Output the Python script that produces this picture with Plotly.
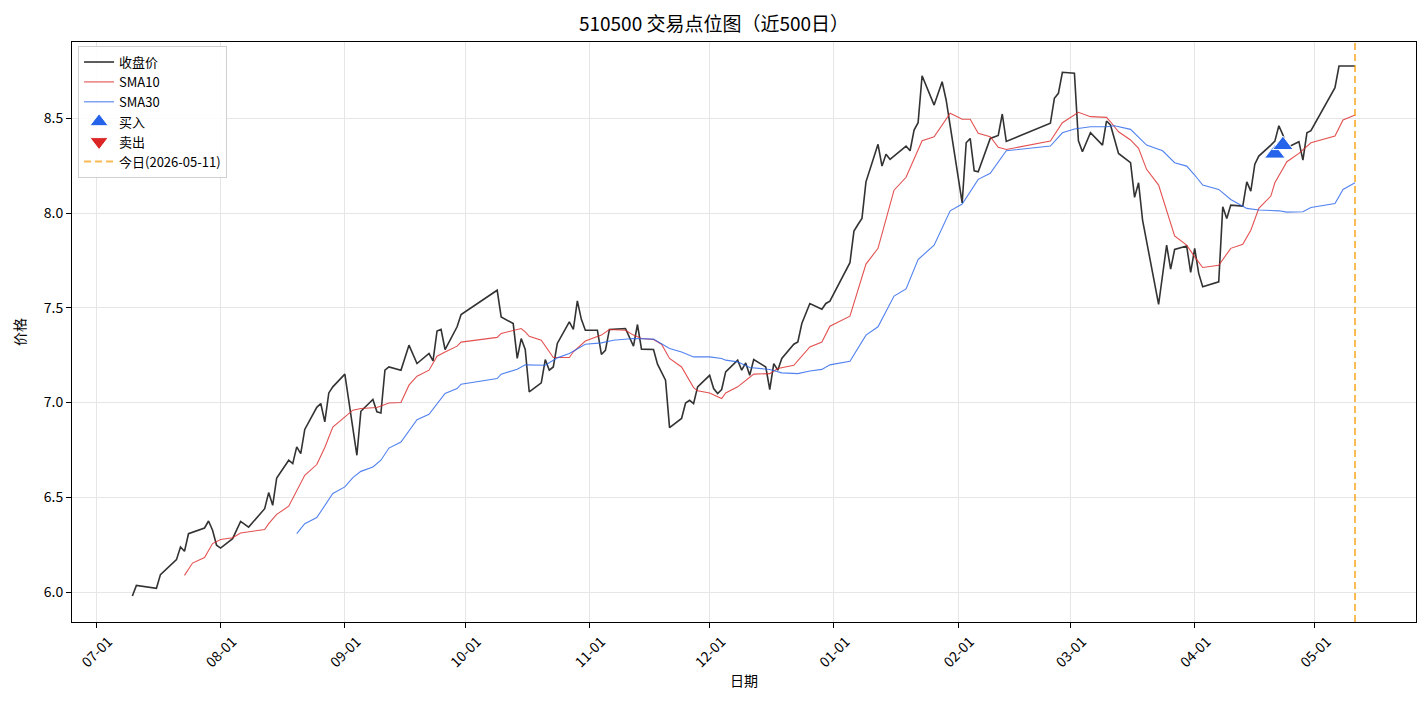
import plotly.graph_objects as go

# ---------------- data ----------------
close_dates = [
    "2025-07-10", "2025-07-11", "2025-07-16", "2025-07-17", "2025-07-21", "2025-07-22", "2025-07-23", "2025-07-24",
    "2025-07-28", "2025-07-29", "2025-07-30", "2025-07-31", "2025-08-01", "2025-08-04", "2025-08-06", "2025-08-08",
    "2025-08-12", "2025-08-13", "2025-08-14", "2025-08-15", "2025-08-18", "2025-08-19", "2025-08-20", "2025-08-21",
    "2025-08-22", "2025-08-25", "2025-08-26", "2025-08-27", "2025-08-28", "2025-08-29", "2025-09-01", "2025-09-04",
    "2025-09-05", "2025-09-08", "2025-09-09", "2025-09-10", "2025-09-11", "2025-09-12", "2025-09-15", "2025-09-17",
    "2025-09-19", "2025-09-22", "2025-09-23", "2025-09-24", "2025-09-25", "2025-09-26", "2025-09-29", "2025-09-30",
    "2025-10-09", "2025-10-10", "2025-10-13", "2025-10-14", "2025-10-15", "2025-10-16", "2025-10-17", "2025-10-20",
    "2025-10-21", "2025-10-22", "2025-10-23", "2025-10-24", "2025-10-27", "2025-10-28", "2025-10-29", "2025-10-30",
    "2025-10-31", "2025-11-03", "2025-11-04", "2025-11-05", "2025-11-06", "2025-11-10", "2025-11-12", "2025-11-13",
    "2025-11-14", "2025-11-17", "2025-11-18", "2025-11-20", "2025-11-21", "2025-11-24", "2025-11-25", "2025-11-26",
    "2025-11-27", "2025-11-28", "2025-12-01", "2025-12-02", "2025-12-03", "2025-12-04", "2025-12-05", "2025-12-08",
    "2025-12-09", "2025-12-10", "2025-12-11", "2025-12-12", "2025-12-15", "2025-12-16", "2025-12-17", "2025-12-18",
    "2025-12-19", "2025-12-22", "2025-12-23", "2025-12-24", "2025-12-26", "2025-12-29", "2025-12-30", "2025-12-31",
    "2026-01-05", "2026-01-06", "2026-01-07", "2026-01-08", "2026-01-09", "2026-01-12", "2026-01-13", "2026-01-14",
    "2026-01-15", "2026-01-19", "2026-01-20", "2026-01-21", "2026-01-22", "2026-01-23", "2026-01-26", "2026-01-28",
    "2026-01-29", "2026-02-02", "2026-02-03", "2026-02-04", "2026-02-05", "2026-02-06", "2026-02-09", "2026-02-11",
    "2026-02-12", "2026-02-13", "2026-02-24", "2026-02-25", "2026-02-26", "2026-02-27", "2026-03-02", "2026-03-03",
    "2026-03-04", "2026-03-06", "2026-03-09", "2026-03-10", "2026-03-11", "2026-03-13", "2026-03-16", "2026-03-17",
    "2026-03-18", "2026-03-19", "2026-03-23", "2026-03-25", "2026-03-26", "2026-03-27", "2026-03-30", "2026-03-31",
    "2026-04-01", "2026-04-02", "2026-04-03", "2026-04-07", "2026-04-08", "2026-04-09", "2026-04-10", "2026-04-13",
    "2026-04-14", "2026-04-15", "2026-04-16", "2026-04-17", "2026-04-20", "2026-04-21", "2026-04-22", "2026-04-23",
    "2026-04-24", "2026-04-27", "2026-04-28", "2026-04-29", "2026-04-30", "2026-05-06", "2026-05-07", "2026-05-08",
    "2026-05-11",
]
close_values = [
    5.979, 6.035, 6.020, 6.092, 6.171, 6.238, 6.215, 6.308,
    6.338, 6.375, 6.326, 6.247, 6.232, 6.282, 6.373, 6.343,
    6.440, 6.525, 6.458, 6.602, 6.696, 6.678, 6.766, 6.731,
    6.858, 6.975, 6.995, 6.898, 7.051, 7.083, 7.150, 6.722,
    6.954, 7.016, 6.951, 6.945, 7.171, 7.188, 7.171, 7.303,
    7.206, 7.259, 7.220, 7.378, 7.386, 7.280, 7.400, 7.465,
    7.593, 7.452, 7.417, 7.233, 7.338, 7.280, 7.056, 7.104,
    7.227, 7.171, 7.188, 7.312, 7.426, 7.386, 7.537, 7.439,
    7.382, 7.382, 7.254, 7.276, 7.386, 7.391, 7.298, 7.412,
    7.282, 7.280, 7.203, 7.118, 6.868, 6.916, 6.998, 7.012,
    6.995, 7.083, 7.144, 7.074, 7.048, 7.069, 7.162, 7.224,
    7.171, 7.209, 7.144, 7.227, 7.188, 7.069, 7.206, 7.171,
    7.233, 7.308, 7.320, 7.417, 7.523, 7.493, 7.523, 7.535,
    7.738, 7.905, 7.940, 7.972, 8.165, 8.363, 8.248, 8.310,
    8.284, 8.354, 8.329, 8.438, 8.477, 8.725, 8.570, 8.693,
    8.597, 8.054, 8.371, 8.394, 8.223, 8.218, 8.394, 8.410,
    8.523, 8.378, 8.474, 8.606, 8.632, 8.743, 8.738, 8.382,
    8.324, 8.424, 8.359, 8.486, 8.465, 8.315, 8.266, 8.083,
    8.160, 7.963, 7.518, 7.831, 7.704, 7.808, 7.826, 7.687,
    7.814, 7.682, 7.611, 7.637, 8.033, 7.972, 8.042, 8.037,
    8.165, 8.116, 8.258, 8.301, 8.359, 8.380, 8.461, 8.413,
    8.345, 8.377, 8.280, 8.424, 8.435, 8.662, 8.776, 8.776,
    8.776,
]

sma10_dates = [
    "2025-07-23", "2025-07-25", "2025-07-28", "2025-07-30", "2025-08-01", "2025-08-04", "2025-08-06", "2025-08-12",
    "2025-08-13", "2025-08-15", "2025-08-18", "2025-08-22", "2025-08-25", "2025-08-27", "2025-08-29", "2025-09-01",
    "2025-09-03", "2025-09-05", "2025-09-09", "2025-09-12", "2025-09-15", "2025-09-17", "2025-09-19", "2025-09-22",
    "2025-09-24", "2025-09-26", "2025-09-29", "2025-09-30", "2025-10-09", "2025-10-10", "2025-10-14", "2025-10-15",
    "2025-10-16", "2025-10-17", "2025-10-20", "2025-10-21", "2025-10-23", "2025-10-27", "2025-10-28", "2025-10-31",
    "2025-11-04", "2025-11-06", "2025-11-10", "2025-11-12", "2025-11-14", "2025-11-17", "2025-11-19", "2025-11-21",
    "2025-11-24", "2025-11-27", "2025-11-28", "2025-12-01", "2025-12-04", "2025-12-05", "2025-12-08", "2025-12-12",
    "2025-12-16", "2025-12-18", "2025-12-22", "2025-12-26", "2025-12-29", "2025-12-31", "2026-01-05", "2026-01-09",
    "2026-01-12", "2026-01-16", "2026-01-19", "2026-01-23", "2026-01-26", "2026-01-30", "2026-02-02", "2026-02-04",
    "2026-02-06", "2026-02-09", "2026-02-11", "2026-02-13", "2026-02-24", "2026-02-27", "2026-03-03", "2026-03-06",
    "2026-03-10", "2026-03-11", "2026-03-13", "2026-03-16", "2026-03-18", "2026-03-20", "2026-03-23", "2026-03-27",
    "2026-03-30", "2026-04-01", "2026-04-03", "2026-04-07", "2026-04-10", "2026-04-13", "2026-04-15", "2026-04-17",
    "2026-04-20", "2026-04-21", "2026-04-24", "2026-04-27", "2026-04-30", "2026-05-06", "2026-05-08", "2026-05-11",
]
sma10_values = [
    6.088, 6.153, 6.182, 6.256, 6.277, 6.287, 6.312, 6.330,
    6.361, 6.410, 6.453, 6.616, 6.673, 6.763, 6.871, 6.924,
    6.960, 6.969, 6.974, 6.998, 7.000, 7.092, 7.139, 7.171,
    7.245, 7.267, 7.298, 7.319, 7.344, 7.365, 7.386, 7.391,
    7.373, 7.350, 7.329, 7.298, 7.238, 7.238, 7.268, 7.325,
    7.356, 7.386, 7.382, 7.356, 7.338, 7.333, 7.308, 7.233,
    7.188, 7.079, 7.062, 7.051, 7.021, 7.051, 7.083, 7.150,
    7.153, 7.180, 7.197, 7.294, 7.320, 7.403, 7.456, 7.731,
    7.814, 8.121, 8.189, 8.382, 8.403, 8.527, 8.495, 8.495,
    8.421, 8.403, 8.347, 8.336, 8.380, 8.477, 8.532, 8.509,
    8.505, 8.482, 8.429, 8.386, 8.342, 8.231, 8.148, 7.880,
    7.831, 7.769, 7.713, 7.725, 7.814, 7.836, 7.910, 8.025,
    8.090, 8.160, 8.271, 8.315, 8.371, 8.407, 8.492, 8.518,
]

sma30_dates = [
    "2025-08-20", "2025-08-22", "2025-08-25", "2025-08-29", "2025-09-01", "2025-09-03", "2025-09-05", "2025-09-08",
    "2025-09-10", "2025-09-12", "2025-09-15", "2025-09-19", "2025-09-22", "2025-09-26", "2025-09-29", "2025-09-30",
    "2025-10-09", "2025-10-10", "2025-10-14", "2025-10-16", "2025-10-21", "2025-10-24", "2025-10-27", "2025-10-31",
    "2025-11-04", "2025-11-07", "2025-11-12", "2025-11-17", "2025-11-21", "2025-11-24", "2025-11-27", "2025-12-01",
    "2025-12-04", "2025-12-05", "2025-12-08", "2025-12-11", "2025-12-16", "2025-12-19", "2025-12-23", "2025-12-26",
    "2025-12-29", "2025-12-31", "2026-01-05", "2026-01-09", "2026-01-12", "2026-01-16", "2026-01-19", "2026-01-22",
    "2026-01-26", "2026-01-30", "2026-02-02", "2026-02-06", "2026-02-09", "2026-02-13", "2026-02-24", "2026-02-27",
    "2026-03-02", "2026-03-06", "2026-03-10", "2026-03-12", "2026-03-16", "2026-03-20", "2026-03-24", "2026-03-27",
    "2026-03-30", "2026-04-01", "2026-04-03", "2026-04-07", "2026-04-10", "2026-04-14", "2026-04-17", "2026-04-22",
    "2026-04-24", "2026-04-28", "2026-04-30", "2026-05-06", "2026-05-08", "2026-05-11",
]
sma30_values = [
    6.308, 6.361, 6.393, 6.520, 6.555, 6.604, 6.637, 6.660,
    6.696, 6.760, 6.792, 6.910, 6.938, 7.048, 7.074, 7.097,
    7.127, 7.150, 7.176, 7.199, 7.197, 7.236, 7.259, 7.308,
    7.315, 7.329, 7.338, 7.335, 7.285, 7.267, 7.241, 7.241,
    7.233, 7.224, 7.215, 7.185, 7.175, 7.157, 7.153, 7.167,
    7.175, 7.199, 7.218, 7.356, 7.400, 7.562, 7.600, 7.755,
    7.831, 8.012, 8.048, 8.178, 8.210, 8.329, 8.354, 8.424,
    8.444, 8.456, 8.456, 8.461, 8.442, 8.359, 8.329, 8.266,
    8.248, 8.201, 8.148, 8.125, 8.072, 8.025, 8.016, 8.012,
    8.005, 8.007, 8.030, 8.051, 8.125, 8.160,
]

buy_dates = ["2026-04-21", "2026-04-23"]
buy_values = [8.314, 8.359]
sell_dates = [None]
sell_values = [None]

today = "2026-05-11"
title_text = "510500 交易点位图（近500日）"
x_range = ["2025-06-24 22:30", "2026-05-26 05:00"]
y_range = [5.842, 8.903]

FONT = "Noto Sans CJK SC, Noto Sans, sans-serif"

# ---------------- figure ----------------
fig = go.Figure()
fig.add_trace(go.Scatter(x=close_dates, y=close_values, mode="lines", name="收盘价",
                         line=dict(color="#333333", width=1.6)))
fig.add_trace(go.Scatter(x=sma10_dates, y=sma10_values, mode="lines", name="SMA10",
                         line=dict(color="rgba(220,38,38,0.8)", width=1.1)))
fig.add_trace(go.Scatter(x=sma30_dates, y=sma30_values, mode="lines", name="SMA30",
                         line=dict(color="rgba(37,99,235,0.8)", width=1.1)))
fig.add_trace(go.Scatter(x=buy_dates, y=buy_values, mode="markers", name="买入",
                         marker=dict(symbol="triangle-up", size=18, color="#2563EB",
                                     line=dict(color="white", width=1))))
fig.add_trace(go.Scatter(x=sell_dates, y=sell_values, mode="markers", name="卖出",
                         marker=dict(symbol="triangle-down", size=18, color="#DC2626",
                                     line=dict(color="white", width=1))))

fig.add_shape(type="line", xref="x", yref="paper", x0=today, x1=today, y0=0, y1=1,
              line=dict(color="rgba(245,158,11,0.7)", width=2, dash="7px,4px"),
              name=f"今日({today})", showlegend=True)

axis_common = dict(showline=True, linecolor="black", linewidth=1, mirror=True,
                   ticks="outside", ticklen=5, tickcolor="black", tickwidth=1,
                   showgrid=True, gridcolor="#e6e6e6", gridwidth=1, zeroline=False,
                   automargin=False,
                   tickfont=dict(family=FONT, size=14, color="black"))

# page body has an 8px margin, so the figure is sized to fit inside the window
fig.update_layout(
    width=1412, height=690,
    margin=dict(l=64, r=4, t=34, b=76),
    paper_bgcolor="white", plot_bgcolor="white",
    font=dict(family=FONT, color="black"),
    title=dict(text=title_text, x=0.5, xanchor="center", y=0.977, yanchor="middle",
               yref="container", automargin=False,
               font=dict(family=FONT, size=19, color="black")),
    xaxis=dict(type="date", range=x_range, dtick="M1", tick0="2025-07-01",
               tickformat="%m-%d", tickangle=-45, ticklabelshift=12,
               title=dict(text="日期", font=dict(family=FONT, size=14), standoff=6),
               **axis_common),
    yaxis=dict(range=y_range, dtick=0.5, tick0=6.0, tickformat=".1f",
               title=dict(text="价格", font=dict(family=FONT, size=14), standoff=14),
               **axis_common),
    legend=dict(x=0.0045, y=0.993, xanchor="left", yanchor="top",
                bgcolor="rgba(255,255,255,0.85)", bordercolor="#d0d0d0", borderwidth=1,
                font=dict(family=FONT, size=13, color="black"), itemwidth=30),
    showlegend=True,
)

fig.write_html("out.html")
